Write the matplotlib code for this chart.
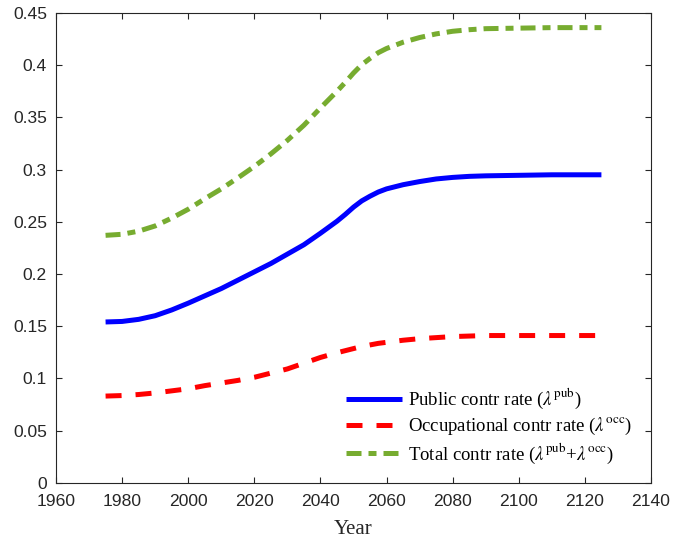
import matplotlib
matplotlib.use("Agg")
import matplotlib.pyplot as plt

years = [1975, 1980, 1985, 1990, 1995, 2000, 2005, 2010, 2015, 2020, 2025,
         2030, 2035, 2040, 2045, 2047.5, 2050, 2052.5, 2055, 2057.5, 2060,
         2065, 2070, 2075, 2080, 2085, 2090, 2100, 2110, 2125]

public_rate = [0.154, 0.1545, 0.1565, 0.160, 0.1655, 0.172, 0.179, 0.186, 0.194,
               0.202, 0.210, 0.219, 0.228, 0.239, 0.2505, 0.257, 0.264, 0.270,
               0.2745, 0.2785, 0.2815, 0.2855, 0.2885, 0.291, 0.2925, 0.2935,
               0.294, 0.2945, 0.295, 0.295]

occ_rate = [0.083, 0.0835, 0.0845, 0.086, 0.088, 0.090, 0.093, 0.0955, 0.098,
            0.101, 0.105, 0.109, 0.1145, 0.120, 0.1245, 0.1265, 0.1285, 0.1305,
            0.132, 0.1335, 0.1345, 0.1365, 0.138, 0.139, 0.140, 0.1405, 0.141,
            0.141, 0.141, 0.141]

total_rate = [0.237, 0.238, 0.241, 0.246, 0.2535, 0.262, 0.272, 0.2815, 0.292,
              0.303, 0.315, 0.328, 0.3425, 0.359, 0.375, 0.3835, 0.3925, 0.4005,
              0.4065, 0.412, 0.416, 0.422, 0.4265, 0.430, 0.4325, 0.434, 0.435,
              0.4355, 0.436, 0.436]

plt.rcParams['mathtext.fontset'] = 'stix'

fig = plt.figure(figsize=(6.73, 5.42), dpi=100)
ax = fig.add_axes([0.0832, 0.1094, 0.8841, 0.8666])

ax.plot(years, public_rate, color='#0000FF', lw=3.6, solid_capstyle='butt',
        label=r'Public contr rate ($\lambda^{\mathrm{pub}}$)')
ax.plot(years, occ_rate, color='#FF0000', lw=3.6, dashes=(3.2, 2.8),
        label=r'Occupational contr rate ($\lambda^{\mathrm{occ}}$)')
ax.plot(years, total_rate, color='#77AC30', lw=3.6, dashes=(3.0, 1.4, 1.6, 1.4),
        label=r'Total contr rate ($\lambda^{\mathrm{pub}}$+$\lambda^{\mathrm{occ}}$)')

ax.set_xlim(1960, 2140)
ax.set_ylim(0, 0.45)
ax.set_xticks(range(1960, 2141, 20))
ax.set_yticks([0, 0.05, 0.1, 0.15, 0.2, 0.25, 0.3, 0.35, 0.4, 0.45])
ax.set_yticklabels(['0', '0.05', '0.1', '0.15', '0.2', '0.25', '0.3',
                    '0.35', '0.4', '0.45'])

for s in ax.spines.values():
    s.set_color('#262626')
    s.set_linewidth(0.8)
ax.tick_params(direction='in', top=True, right=True, length=4, width=0.8,
               color='#262626', labelcolor='#262626', labelsize=12.6)
ax.tick_params(axis='y', pad=6.5)
ax.tick_params(axis='x', pad=8)
for lbl in ax.get_xticklabels() + ax.get_yticklabels():
    lbl.set_fontfamily('Liberation Sans')

ax.set_xlabel('Year', fontfamily='Liberation Serif', fontsize=15,
              color='#262626', labelpad=8)

leg = ax.legend(loc='upper left', bbox_to_anchor=(0.487, 0.203), frameon=False,
                prop={'family': 'Liberation Serif', 'size': 13.5},
                handlelength=3.0, handletextpad=0.3, labelspacing=0.25,
                borderaxespad=0, borderpad=0)

fig.savefig('out.png', dpi=100)
